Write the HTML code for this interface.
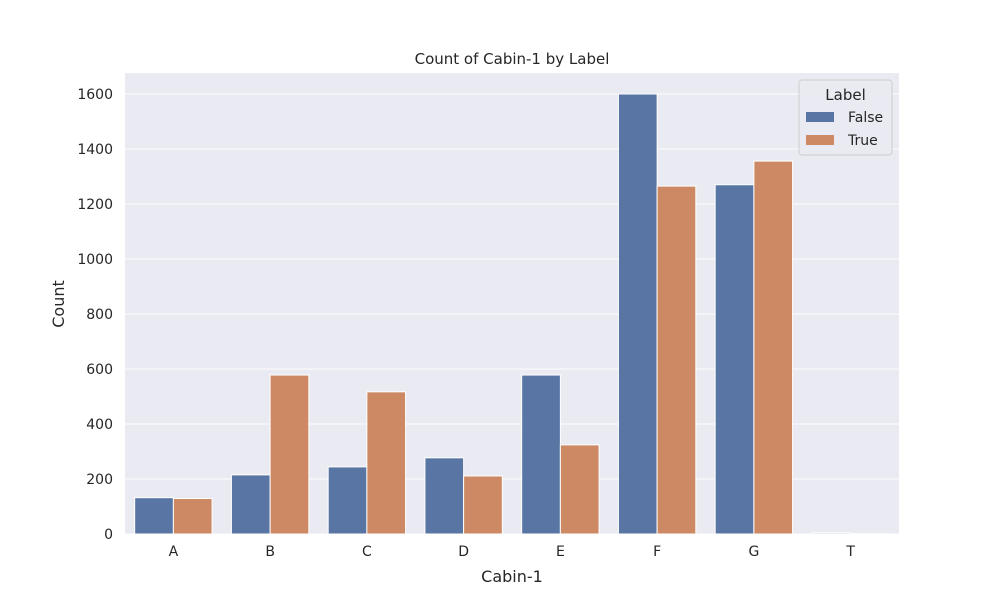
<!DOCTYPE html>
<html><head><meta charset="utf-8"><style>
body{margin:0;background:#fff;font-family:"Liberation Sans","DejaVu Sans",sans-serif;}
svg text{font-family:"DejaVu Sans","Liberation Sans",sans-serif;fill:#262626;}
</style></head><body>
<svg id="chart" width="1000" height="600">
<rect x="125" y="73" width="774" height="461" fill="#eaeaf2"/>
<g id="grid"></g><g id="bars"></g><g id="ticks"></g>
<text x="512" y="64" text-anchor="middle" font-size="15">Count of Cabin-1 by Label</text>
<text x="512" y="582" text-anchor="middle" font-size="16">Cabin-1</text>
<text x="64" y="304" text-anchor="middle" font-size="16" transform="rotate(-90 64 304)">Count</text>
<g>
<rect x="799" y="80" width="93" height="75" rx="3" fill="#eaeaf2" stroke="#ccc" opacity="0.9"/>
<text x="845.5" y="100" text-anchor="middle" font-size="15">Label</text>
<rect x="806" y="112" width="28" height="10" fill="#5875a4"/>
<text x="848" y="122" font-size="14">False</text>
<rect x="806" y="135" width="28" height="10" fill="#cc8963"/>
<text x="848" y="145" font-size="14">True</text>
</g>
</svg>
<script>
const categories=["A","B","C","D","E","F","G","T"];
const falseValues=[132,215,244,277,578,1600,1270,4];
const trueValues=[129,578,517,211,324,1265,1356,1];
const yTicks=[0,200,400,600,800,1000,1200,1400,1600];
const NS="http://www.w3.org/2000/svg";
const X0=125,W=774,Y0=534,PY=0.275;
const band=W/categories.length;
const y=v=>Y0-v*PY;
const xc=i=>X0+band*(i+0.5);
function mk(t,a,p){const e=document.createElementNS(NS,t);for(const k in a)e.setAttribute(k,a[k]);p.appendChild(e);return e;}
const grid=document.getElementById('grid'),bars=document.getElementById('bars'),ticks=document.getElementById('ticks');
yTicks.forEach(v=>{
 const l=mk('line',{x1:X0,x2:X0+W,y1:y(v),y2:y(v),stroke:'#fff','stroke-width':1},grid);
 
 
 const t=mk('text',{x:X0-12,y:y(v)+5,'text-anchor':'end','font-size':14},ticks);
 t.textContent=v;
 
 
});
const bw=band*0.4;
categories.forEach((c,i)=>{
 const f=mk('rect',{x:xc(i)-bw,y:y(falseValues[i]),width:bw,height:falseValues[i]*PY,fill:'#5875a4',stroke:'#fff','stroke-width':1},bars);
 
 
 const r=mk('rect',{x:xc(i),y:y(trueValues[i]),width:bw,height:trueValues[i]*PY,fill:'#cc8963',stroke:'#fff','stroke-width':1},bars);
 
 
 const t=mk('text',{x:xc(i),y:Y0+22,'text-anchor':'middle','font-size':14},ticks);
 t.textContent=c;
 
 
});
</script>
</body></html>
